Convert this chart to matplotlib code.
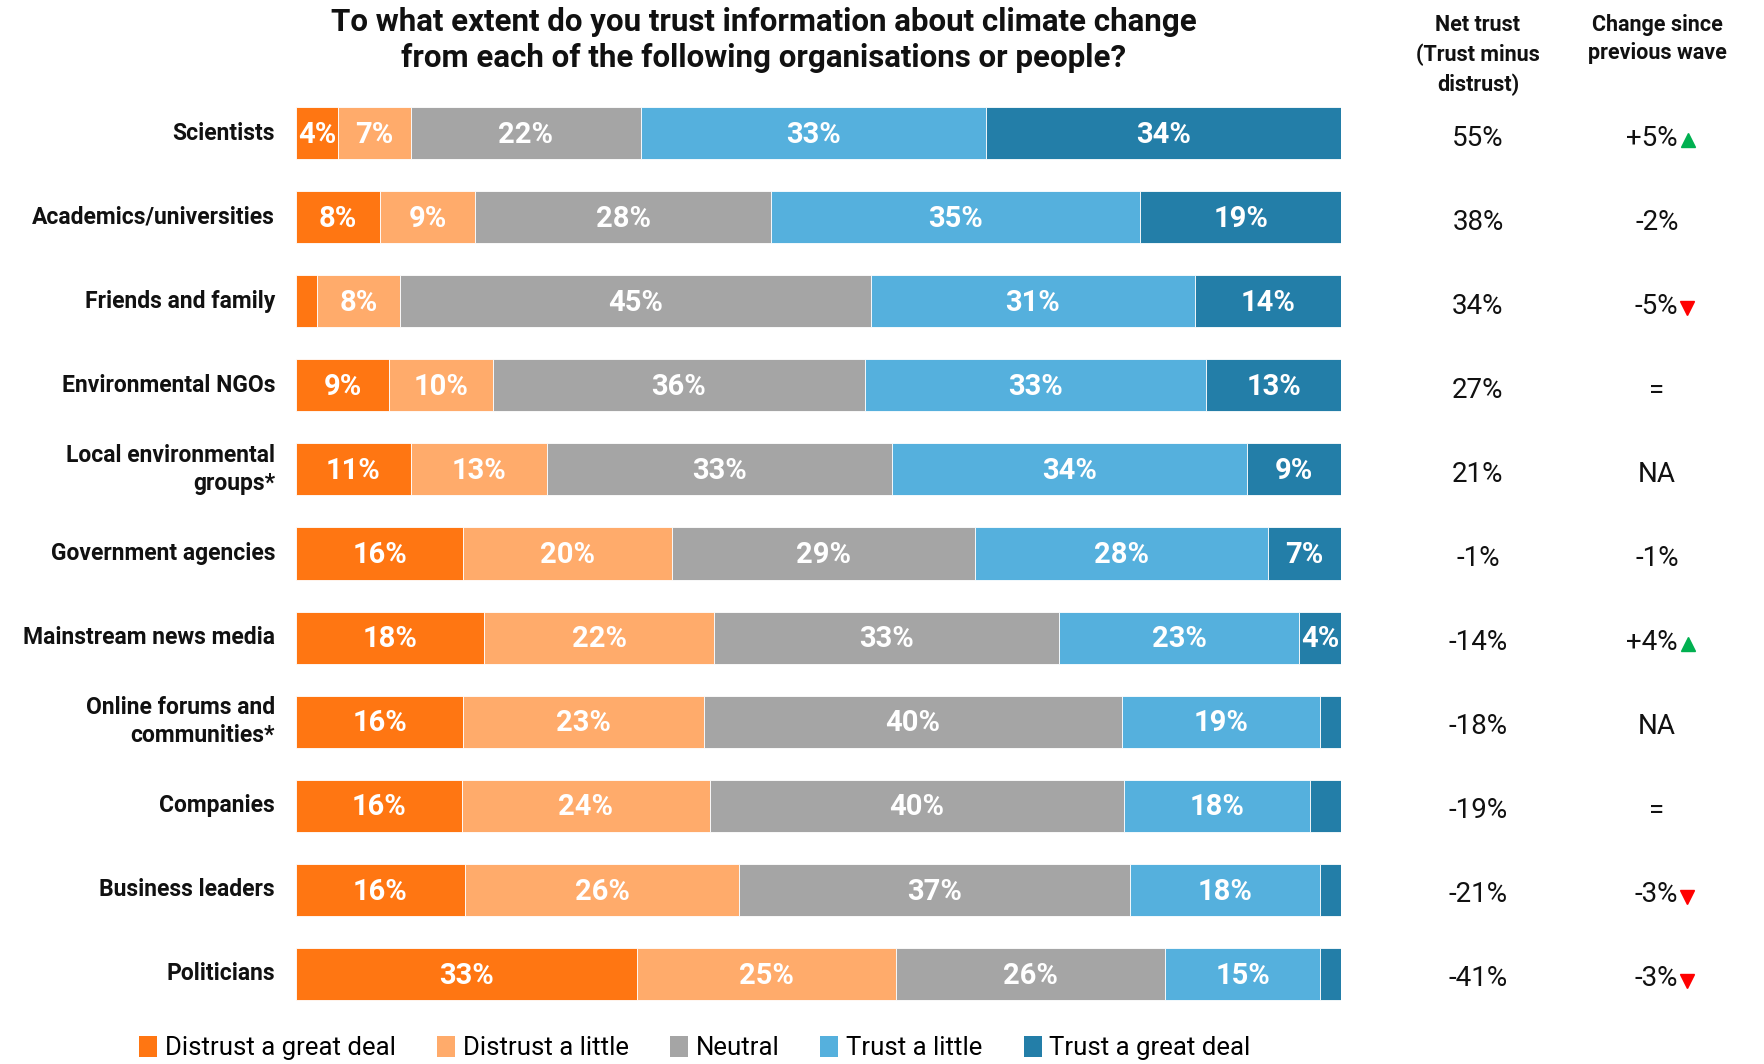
import matplotlib
matplotlib.use("Agg")
import matplotlib.pyplot as plt
import matplotlib.transforms as mtransforms
from matplotlib.patches import Patch

plt.rcParams['font.family'] = ['Roboto', 'DejaVu Sans']

categories = ["Scientists", "Academics/universities", "Friends and family", "Environmental NGOs",
              "Local environmental\ngroups*", "Government agencies", "Mainstream news media",
              "Online forums and\ncommunities*", "Companies", "Business leaders", "Politicians"]
series_names = ["Distrust a great deal", "Distrust a little", "Neutral", "Trust a little", "Trust a great deal"]
distrust_great = [4, 8, 2, 9, 11, 16, 18, 16, 16, 16, 33]
distrust_little = [7, 9, 8, 10, 13, 20, 22, 23, 24, 26, 25]
neutral = [22, 28, 45, 36, 33, 29, 33, 40, 40, 37, 26]
trust_little = [33, 35, 31, 33, 34, 28, 23, 19, 18, 18, 15]
trust_great = [34, 19, 14, 13, 9, 7, 4, 2, 3, 2, 2]
net_trust = ["55%", "38%", "34%", "27%", "21%", "-1%", "-14%", "-18%", "-19%", "-21%", "-41%"]
change = ["+5%", "-2%", "-5%", "=", "NA", "-1%", "+4%", "NA", "=", "-3%", "-3%"]
change_dir = ["up", "", "down", "", "", "", "up", "", "", "down", "down"]

colors = ["#FF7612", "#FFAB6B", "#A5A5A5", "#55B0DD", "#237EA8"]

W, H = 1765, 1064
fig = plt.figure(figsize=(W / 100, H / 100), dpi=100)
ax = fig.add_axes([296 / W, 1 - 1016 / H, (1341 - 296) / W, 925 / H])

series = [distrust_great, distrust_little, neutral, trust_little, trust_great]
n = len(categories)
for i in range(n):
    vals = [s[i] for s in series]
    tot = sum(vals)
    left = 0.0
    for j, v in enumerate(vals):
        w = v / tot * 100
        ax.barh(i, w, left=left, height=0.62, color=colors[j], edgecolor='white', linewidth=0.6)
        if v >= 4:
            ax.text(left + w / 2, i + 0.02, f"{v}%", ha='center', va='center', color='white',
                    fontsize=21, fontweight='bold')
        left += w

ax.set_xlim(0, 100)
ax.set_ylim(n - 0.5, -0.5)
ax.axis('off')

# category labels
for i, c in enumerate(categories):
    ax.text(-2.0, i, c, ha='right', va='center', fontsize=16.5, fontweight='bold',
            color='#111111', linespacing=1.3)

trans = mtransforms.blended_transform_factory(fig.transFigure, ax.transData)
x_net = 1478 / W
x_chg = 1657 / W
dy = 0.06
for i in range(n):
    ax.text(x_net, i + dy, net_trust[i], transform=trans, ha='center', va='center',
            fontsize=20, fontweight='normal', color='#111111')
    if change_dir[i]:
        ax.text(1678 / W, i + dy, change[i], transform=trans, ha='right', va='center',
                fontsize=20, fontweight='normal', color='#111111')
        if change_dir[i] == 'up':
            ax.plot([1688 / W], [i + 0.08], marker='^', color='#00B050', markersize=10,
                    transform=trans, clip_on=False, linestyle='none')
        else:
            ax.plot([1687 / W], [i + 0.08], marker='v', color='#FF0000', markersize=10,
                    transform=trans, clip_on=False, linestyle='none')
    else:
        ax.text(x_chg, i + dy, change[i], transform=trans, ha='center', va='center',
                fontsize=20, fontweight='normal', color='#111111')

# title
fig.text(764 / W, 1 - 40 / H, "To what extent do you trust information about climate change\nfrom each of the following organisations or people?",
         ha='center', va='center', fontsize=22.5, fontweight='bold', color='#111111', linespacing=1.25)

# column headers
fig.text(x_net, 1 - 55 / H, "Net trust\n(Trust minus\ndistrust)", ha='center', va='center',
         fontsize=15.5, fontweight='bold', color='#111111', linespacing=1.4)
fig.text(x_chg, 1 - 39 / H, "Change since\nprevious wave", ha='center', va='center',
         fontsize=15.5, fontweight='bold', color='#111111', linespacing=1.4)

handles = [Patch(facecolor=c, edgecolor='none') for c in colors]
fig.legend(handles, series_names, loc='center', bbox_to_anchor=(695 / W, 1 - 1048 / H),
           ncol=5, frameon=False, fontsize=18.5, handlelength=0.7, handleheight=0.9,
           handletextpad=0.3, columnspacing=1.6, borderaxespad=0)

fig.savefig("out.png", dpi=100, facecolor='white')
